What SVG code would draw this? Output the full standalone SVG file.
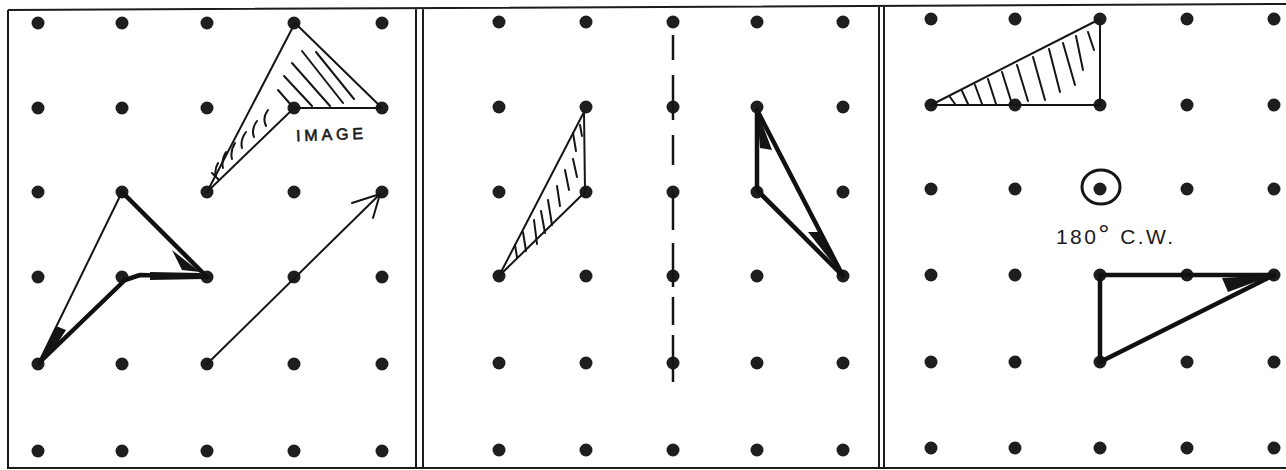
<svg xmlns="http://www.w3.org/2000/svg" xmlns:xlink="http://www.w3.org/1999/xlink" width="1286" height="470" viewBox="0 0 1286 470">
<style>
.frame{fill:none;stroke:#1c1c1c;stroke-width:2}
.dot{fill:#1e1e1e}
.ln{fill:none;stroke:#151515;stroke-width:2;stroke-linecap:round;stroke-linejoin:round}
.bold{fill:none;stroke:#111;stroke-width:4.5;stroke-linecap:round;stroke-linejoin:round}
.hatch{fill:none;stroke:#151515;stroke-width:2;stroke-linecap:round}
.blk{fill:#141414}
.lbl{font-family:"Liberation Sans",Arial,sans-serif;fill:#1a1a1a}
</style>
<defs>
<circle id="d" r="6.5" class="dot"/>
</defs>
<rect width="1286" height="470" fill="#fff"/>
<g id="frame">
<path class="frame" d="M8 10 L1286 4 M8 10 V468 H1286 M416 8 V468 M423 8 V468 M879 6 V468 M884 6 V468"/>
</g>
<g id="panel1">
<g id="grid1">
<use xlink:href="#d" x="38" y="23"/><use xlink:href="#d" x="122" y="23"/><use xlink:href="#d" x="207" y="23"/><use xlink:href="#d" x="294" y="23"/><use xlink:href="#d" x="382" y="23"/>
<use xlink:href="#d" x="38" y="108"/><use xlink:href="#d" x="122" y="108"/><use xlink:href="#d" x="207" y="108"/><use xlink:href="#d" x="294" y="108"/><use xlink:href="#d" x="382" y="108"/>
<use xlink:href="#d" x="38" y="192"/><use xlink:href="#d" x="122" y="192"/><use xlink:href="#d" x="207" y="192"/><use xlink:href="#d" x="294" y="192"/><use xlink:href="#d" x="382" y="192"/>
<use xlink:href="#d" x="38" y="277"/><use xlink:href="#d" x="122" y="277"/><use xlink:href="#d" x="207" y="277"/><use xlink:href="#d" x="294" y="277"/><use xlink:href="#d" x="382" y="277"/>
<use xlink:href="#d" x="38" y="364"/><use xlink:href="#d" x="122" y="364"/><use xlink:href="#d" x="207" y="364"/><use xlink:href="#d" x="294" y="364"/><use xlink:href="#d" x="382" y="364"/>
<use xlink:href="#d" x="38" y="451"/><use xlink:href="#d" x="122" y="451"/><use xlink:href="#d" x="207" y="451"/><use xlink:href="#d" x="294" y="451"/><use xlink:href="#d" x="382" y="451"/>
</g>
<g id="original1">
<path class="ln" d="M38 364 L122 192"/>
<path class="bold" d="M122 192 L207 277 L140 275 L125 280 L40 362"/>
<path class="blk" d="M38 364 L56 326 L66 330 L52 352 Z"/>
<path class="blk" d="M150 272 L200 273 L205 279 L150 280 Z"/>
<path class="blk" d="M172 250 L200 272 L182 270 Z"/>
</g>
<g id="image1">
<path class="ln" d="M207 192 L295 23 L382 108 L294 108 Z"/>
<path class="hatch" d="M316 52 L354 99 M302 51 L343 103 M292 63 L330 106 M284 76 L312 106 M278 90 L292 106 M268 110 Q262 118 266 126 M257 121 Q251 129 254 137 M246 132 Q240 140 242 148 M235 143 Q230 151 232 159 M226 152 Q221 160 223 168 M218 163 Q214 170 216 177 M212 173 L219 180"/>
<text class="lbl" x="296" y="140" font-size="16" stroke="#1a1a1a" stroke-width="0.6" textLength="67" lengthAdjust="spacing" transform="rotate(-2 330 134)">IMAGE</text>
</g>
<g id="arrow1">
<path class="ln" d="M207 364 L380 194 M352 203 L380 194 L373 218"/>
</g>
</g>
<g id="panel2">
<g id="grid2">
<use xlink:href="#d" x="499" y="22"/><use xlink:href="#d" x="586" y="22"/><use xlink:href="#d" x="673" y="22"/><use xlink:href="#d" x="757" y="22"/><use xlink:href="#d" x="843" y="22"/>
<use xlink:href="#d" x="499" y="107"/><use xlink:href="#d" x="586" y="107"/><use xlink:href="#d" x="673" y="107"/><use xlink:href="#d" x="757" y="107"/><use xlink:href="#d" x="843" y="107"/>
<use xlink:href="#d" x="499" y="192"/><use xlink:href="#d" x="586" y="192"/><use xlink:href="#d" x="673" y="192"/><use xlink:href="#d" x="757" y="192"/><use xlink:href="#d" x="843" y="192"/>
<use xlink:href="#d" x="499" y="276"/><use xlink:href="#d" x="586" y="276"/><use xlink:href="#d" x="673" y="276"/><use xlink:href="#d" x="757" y="276"/><use xlink:href="#d" x="843" y="276"/>
<use xlink:href="#d" x="499" y="363"/><use xlink:href="#d" x="586" y="363"/><use xlink:href="#d" x="673" y="363"/><use xlink:href="#d" x="757" y="363"/><use xlink:href="#d" x="843" y="363"/>
<use xlink:href="#d" x="499" y="450"/><use xlink:href="#d" x="586" y="450"/><use xlink:href="#d" x="673" y="450"/><use xlink:href="#d" x="757" y="450"/><use xlink:href="#d" x="843" y="450"/>
</g>
<g id="mirror-line">
<path fill="none" stroke="#151515" stroke-width="2.5" d="M673 35 V60 M673 75 V120 M673 135 V165 M673 190 V230 M673 243 V287 M673 297 V325 M673 335 V382"/>
</g>
<g id="original2">
<path class="ln" d="M499 276 L584 112 L585 192 Z"/>
<path class="hatch" d="M515 245 L517 257 M523 232 L526 251 M534 220 L537 244 M541 211 L545 233 M548 200 L552 225 M557 186 L560 206 M565 170 L569 190 M573 159 L577 177 M573 133 L576 151 M580 125 L582 136"/>
</g>
<g id="image2">
<path class="ln" d="M757 110 L757 192 L843 276"/>
<path class="bold" d="M757 110 L843 276 M757 110 L757 190 L843 276"/>
<path class="blk" d="M757 110 L772 150 L760 148 Z"/>
<path class="blk" d="M843 276 L808 232 L818 232 Z"/>
</g>
</g>
<g id="panel3">
<g id="grid3">
<use xlink:href="#d" x="931" y="19"/><use xlink:href="#d" x="1015" y="19"/><use xlink:href="#d" x="1100" y="19"/><use xlink:href="#d" x="1187" y="19"/><use xlink:href="#d" x="1274" y="19"/>
<use xlink:href="#d" x="931" y="105"/><use xlink:href="#d" x="1015" y="105"/><use xlink:href="#d" x="1100" y="105"/><use xlink:href="#d" x="1187" y="105"/><use xlink:href="#d" x="1274" y="105"/>
<use xlink:href="#d" x="931" y="189"/><use xlink:href="#d" x="1015" y="189"/><use xlink:href="#d" x="1100" y="189"/><use xlink:href="#d" x="1187" y="189"/><use xlink:href="#d" x="1274" y="189"/>
<use xlink:href="#d" x="931" y="275"/><use xlink:href="#d" x="1015" y="275"/><use xlink:href="#d" x="1100" y="275"/><use xlink:href="#d" x="1187" y="275"/><use xlink:href="#d" x="1274" y="275"/>
<use xlink:href="#d" x="931" y="362"/><use xlink:href="#d" x="1015" y="362"/><use xlink:href="#d" x="1100" y="362"/><use xlink:href="#d" x="1187" y="362"/><use xlink:href="#d" x="1274" y="362"/>
<use xlink:href="#d" x="931" y="448"/><use xlink:href="#d" x="1015" y="448"/><use xlink:href="#d" x="1100" y="448"/><use xlink:href="#d" x="1187" y="448"/><use xlink:href="#d" x="1274" y="448"/>
</g>
<g id="original3">
<path class="ln" d="M931 105 L1100 19 L1100 105 Z" stroke-width="2.5"/>
<path class="hatch" stroke-width="2.3" d="M950 97 L955 104 M962 91 L968 104 M975 85 L982 104 M988 79 L996 104 M1002 72 L1012 104 M1017 65 L1028 101 M1033 57 L1045 100 M1049 49 L1060 92 M1063 43 L1075 85 M1076 36 L1083 70 M1088 32 L1094 50"/>
</g>
<g id="center3">
<ellipse cx="1101" cy="187" rx="19" ry="17" fill="none" stroke="#151515" stroke-width="3"/>
<text class="lbl" x="1056" y="244" font-size="21" textLength="117" lengthAdjust="spacing">180<tspan font-size="28">°</tspan> C.W.</text>
</g>
<g id="image3">
<path class="bold" d="M1100 275 L1274 275 M1100 275 L1100 362" stroke-width="3.5"/>
<path class="bold" d="M1100 362 L1274 275"/>
<path class="blk" d="M1274 275 L1222 278 L1228 292 Z"/>
</g>
</g>
</svg>
